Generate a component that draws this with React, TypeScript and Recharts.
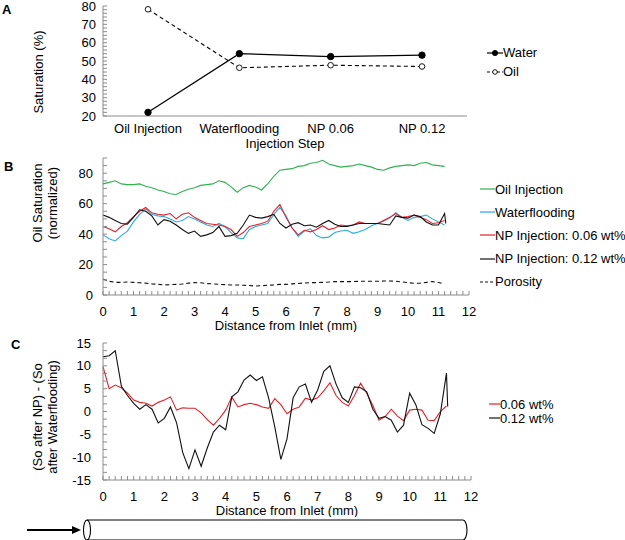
import React from 'react';
import { LineChart, Line, XAxis, YAxis, Legend } from 'recharts';

const FONT = '"Liberation Sans", Arial, Helvetica, sans-serif';
const FRAME = '#8c8c8c';

// Panel A: saturation per injection step
const stepNames = ['Oil Injection', 'Waterflooding', 'NP 0.06', 'NP 0.12'];
const waterSat = [22, 54, 52.4, 53.2];
const oilSat = [78.2, 46.3, 47.7, 47];

// Panel B / C: profiles along the core (mm)
const distance = [
  0, 0.2, 0.4, 0.6, 0.8, 1, 1.2, 1.4, 1.6, 1.8, 2, 2.2, 2.4, 2.6, 2.8, 3, 3.2, 3.4, 3.6, 3.8,
  4, 4.2, 4.4, 4.6, 4.8, 5, 5.2, 5.4, 5.6, 5.8, 6, 6.2, 6.4, 6.6, 6.8, 7, 7.2, 7.4, 7.6, 7.8,
  8, 8.2, 8.4, 8.6, 8.8, 9, 9.2, 9.4, 9.6, 9.8, 10, 10.2, 10.4, 10.6, 10.8, 11, 11.2, 11.24,
];
const oilInjection = [
  73, 74, 75, 73, 72.5, 72.5, 73, 71.5, 70.5, 69, 68, 66.5, 66, 68, 69.5, 70.5, 72, 72.5, 73, 75,
  74, 71, 67.5, 70.5, 72, 71, 69, 73, 78, 82, 82.5, 83, 84.5, 85, 86.5, 87, 88.5, 86, 85, 84,
  84.5, 85, 86, 85, 84, 82.5, 82, 83.5, 84.5, 85, 85.5, 85, 86.5, 87, 85.5, 85, 84.5,
];
const waterflooding = [
  39.5, 37, 35.5, 39, 42, 48, 53, 56.5, 53, 52, 51.5, 50, 48, 49, 51.5, 50, 48, 46, 45, 47,
  45, 41, 37.5, 37, 43, 45, 46, 47, 53, 57.5, 52, 44, 38.5, 42, 43.5, 39, 37.5, 38, 41, 42,
  42.5, 40.5, 41.5, 43, 45.5, 47, 48.5, 50.5, 54, 51, 49, 51, 51.5, 52.5, 50, 48, 46,
];
const np006 = [
  45, 43.5, 41.5, 45, 47.5, 51.5, 55, 57.5, 54, 53, 52.5, 53.5, 50, 53, 54, 51, 49, 47, 46.5, 46,
  45, 43, 38.5, 41, 45, 46, 47, 48.5, 55, 59.5, 51, 44, 39.5, 42.5, 41.5, 43, 45.5, 43, 44, 46,
  45.5, 46, 48, 47, 47, 47, 49, 51, 53.5, 51, 51.5, 52.5, 51, 49.5, 47, 47.5, 49,
];
const np012 = [
  52.5, 51, 49, 47, 46.5, 51, 56, 55, 52, 46, 49.5, 48.5, 46, 43, 40.5, 42, 38.5, 39.5, 41, 45,
  38.5, 39, 40.5, 46, 52.5, 51, 50.5, 51.5, 53, 47, 44, 46.5, 47.5, 45.5, 46, 44.5, 47, 49, 46.5, 45,
  45, 46, 47, 47, 47, 47, 46.5, 46, 52, 51, 50.5, 52.5, 51.5, 48, 46, 46, 53.5, 47,
];
const porosity = [
  10.5, 9, 8.3, 8.3, 8.5, 8.3, 8, 7.8, 7.3, 7, 6.6, 6.8, 7, 7.2, 7.8, 8.1, 8, 7.5, 7.3, 7,
  6.8, 6.6, 6.6, 6.4, 6.2, 5.9, 6.1, 6.4, 6.6, 7, 7, 7.3, 7.6, 7.9, 8.1, 8.1, 8.3, 8.5, 8.8, 8.8,
  8.8, 8.8, 9, 9, 9, 9, 9.2, 9.2, 9, 8.6, 8.1, 7.7, 7.8, 8.3, 8.8, 8.2, 7.2,
];
const diff006 = [
  9.8, 5, 5.8, 5.2, 4, 2.5, 2, 1.8, 1.2, 2, 2.5, 3.2, 0.3, 0.8, 0.7, 0.7, -0.3, -1.8, -3, -1.5,
  0.3, 3.2, 1, 1.5, 1.8, 1.5, 1, 0.7, 2.8, 1.5, -0.5, 0.5, 1, 2.9, 2.5, 3, 4.5, 6.3, 3.5, 2,
  1.2, 3.5, 6.2, 4, 1.3, -1.9, -1.1, 0.5, -1, -2, 0.3, 0.5, 0.3, -1.9, -2, 0, 1.2,
];
const diff012 = [
  12, 12.2, 13.3, 5.5, 3.5, 1.8, 0.5, 1.5, 0.5, -2.5, -1.5, 1, -2.5, -9, -12.5, -8.4, -12, -8, -4.5, -3,
  -4, 3.2, 4.3, 6.9, 8, 6.8, 7.6, 3, -3.3, -10.5, -6, 3, 5.4, 6, 2, 4.7, 8.8, 10, 6, 3,
  2, 5.4, 5.2, 4.3, 0.5, -1.5, -1.1, -1.9, -4.5, -3, 4, 1.5, -2.9, -3.7, -4.8, -0.5, 8.4, 1.1,
];

const stepRows = stepNames.map((step, i) => ({ step, water: waterSat[i], oil: oilSat[i] }));
const profileRows = distance.map((d, i) => ({
  d,
  oil: oilInjection[i],
  water: waterflooding[i],
  np006: np006[i],
  np012: np012[i],
  porosity: porosity[i],
  c006: diff006[i],
  c012: diff012[i],
}));

const seriesB = [
  { key: 'oil', name: 'Oil Injection', color: '#2fb250' },
  { key: 'water', name: 'Waterflooding', color: '#29abe2' },
  { key: 'np006', name: 'NP Injection: 0.06 wt%', color: '#e3212b' },
  { key: 'np012', name: 'NP Injection: 0.12 wt%', color: '#111111' },
  { key: 'porosity', name: 'Porosity', color: '#111111', dash: '4 3' },
];
const seriesC = [
  { key: 'c006', name: '0.06 wt%', color: '#e3212b' },
  { key: 'c012', name: '0.12 wt%', color: '#111111' },
];

// tick helpers
const steps = (from: number, to: number, n: number) =>
  Array.from({ length: n + 1 }, (_, i) => Math.round((from + ((to - from) * i) / n) * 1000) / 1000);
const isMajor = (v: number, every: number) => Math.abs(v / every - Math.round(v / every)) < 1e-6;

const XTickMinor = (props: any) => {
  const { x, y, payload, gap, every } = props;
  const v = payload.value;
  const base = y - gap;
  return (
    <g>
      <line x1={x} x2={x} y1={base} y2={base - 4} stroke={FRAME} />
      {isMajor(v, every) && (
        <text x={x} y={y} dy="0.71em" textAnchor="middle" fontSize={13} fontFamily={FONT} fill="#000">
          {Math.round(v)}
        </text>
      )}
    </g>
  );
};

const YTickMinor = (props: any) => {
  const { x, y, payload, gap, every } = props;
  const v = payload.value;
  const base = x + gap;
  return (
    <g>
      <line x1={base} x2={base + 4} y1={y} y2={y} stroke={FRAME} />
      {isMajor(v, every) && (
        <text x={x} y={y} dy="0.35em" textAnchor="end" fontSize={13} fontFamily={FONT} fill="#000">
          {Math.round(v)}
        </text>
      )}
    </g>
  );
};

// axis titles at fixed spots in the chart's own svg
const VTitle = ({ px, py, lines }: any) => (
  <g>
    {lines.map((t: string, i: number) => (
      <text
        key={t}
        x={px + i * 15}
        y={py}
        dy="0.35em"
        transform={`rotate(-90, ${px + i * 15}, ${py})`}
        textAnchor="middle"
        fontSize={13}
        fontFamily={FONT}
        fill="#000"
      >
        {t}
      </text>
    ))}
  </g>
);

const HTitle = ({ px, py, text }: any) => (
  <text x={px} y={py} dy="0.35em" textAnchor="middle" fontSize={13} fontFamily={FONT} fill="#000">
    {text}
  </text>
);

const LegendA = () => (
  <div style={{ fontFamily: FONT, fontSize: 13, color: '#000' }}>
    {[
      { name: 'Water', fill: '#000', dash: undefined, r: 2.6 },
      { name: 'Oil', fill: '#fff', dash: '3 2', r: 2.3 },
    ].map((r) => (
      <div key={r.name} style={{ display: 'flex', alignItems: 'center', height: 19, whiteSpace: 'nowrap' }}>
        <svg width={16} height={10}>
          <line x1={0} x2={16} y1={5} y2={5} stroke="#000" strokeWidth={1.2} strokeDasharray={r.dash} />
          <circle cx={8} cy={5} r={r.r} fill={r.fill} stroke="#000" strokeWidth={0.9} />
        </svg>
        <span>{r.name}</span>
      </div>
    ))}
  </div>
);

const LineLegend = ({ items, rowH, lineW }: any) => (
  <div style={{ fontFamily: FONT, fontSize: 13, color: '#000' }}>
    {items.map((s: any) => (
      <div key={s.key} style={{ display: 'flex', alignItems: 'center', height: rowH, whiteSpace: 'nowrap' }}>
        <svg width={lineW} height={6}>
          <line x1={0} x2={lineW} y1={3} y2={3} stroke={s.color} strokeWidth={1.2} strokeDasharray={s.dash ? '3 2' : undefined} />
        </svg>
        <span>{s.name}</span>
      </div>
    ))}
  </div>
);

const frameAxes = (topType: 'number' | 'category') => [
  <XAxis
    key="ftop"
    xAxisId="top"
    orientation="top"
    type={topType}
    height={0}
    tick={false}
    tickLine={false}
    axisLine={{ stroke: FRAME }}
  />,
  <YAxis key="fright" yAxisId="right" orientation="right" width={0} tick={false} tickLine={false} axisLine={{ stroke: FRAME }} />,
];

export default function App() {
  const xTicksBC = steps(0, 12, 60);
  return (
    <div style={{ position: 'absolute', left: 0, top: 0, width: 625, height: 540, background: '#fff', fontFamily: FONT, overflow: 'hidden' }}>
      <div style={{ position: 'absolute', left: 2, top: 3, fontWeight: 'bold', fontSize: 13, lineHeight: '13px' }}>A</div>
      <div style={{ position: 'absolute', left: 4, top: 160, fontWeight: 'bold', fontSize: 13, lineHeight: '13px' }}>B</div>
      <div style={{ position: 'absolute', left: 11, top: 338, fontWeight: 'bold', fontSize: 13, lineHeight: '13px' }}>C</div>

      {/* Panel A */}
      <div style={{ position: 'absolute', left: 0, top: 0 }}>
        <LineChart width={625} height={155} data={stepRows} margin={{ top: 6, right: 158, bottom: 0, left: 30 }}>
          <XAxis
            dataKey="step"
            padding={{ left: 45, right: 45 }}
            height={39}
            tickSize={0}
            tickMargin={8}
            tickLine={false}
            interval={0}
            axisLine={{ stroke: FRAME }}
            tick={{ fontSize: 13, fill: '#000', fontFamily: FONT }}
            label={<HTitle px={285} py={143} text="Injection Step" />}
          />
          <YAxis
            type="number"
            domain={[20, 80]}
            ticks={steps(20, 80, 30)}
            interval={0}
            width={73}
            tickSize={0}
            tickMargin={7}
            tickLine={false}
            axisLine={{ stroke: FRAME }}
            tick={(p: any) => <YTickMinor {...p} gap={7} every={10} />}
            label={<VTitle px={38} py={72} lines={['Saturation (%)']} />}
          />
          {frameAxes('category')}
          <Line
            dataKey="water"
            name="Water"
            stroke="#000"
            strokeWidth={1.2}
            dot={{ r: 3.2, fill: '#000', stroke: '#000', strokeWidth: 1 }}
            isAnimationActive={false}
          />
          <Line
            dataKey="oil"
            name="Oil"
            stroke="#000"
            strokeWidth={1.1}
            strokeDasharray="4 3"
            dot={{ r: 2.8, fill: '#fff', stroke: '#000', strokeWidth: 0.9, strokeDasharray: '0' }}
            isAnimationActive={false}
          />
          <Legend
            layout="vertical"
            align="center"
            verticalAlign="middle"
            content={() => <LegendA />}
            wrapperStyle={{ left: 487, top: 43, width: 'auto' }}
          />
        </LineChart>
      </div>

      {/* Panel B */}
      <div style={{ position: 'absolute', left: 0, top: 150 }}>
        <LineChart width={625} height={182} data={profileRows} margin={{ top: 8, right: 156, bottom: 0, left: 30 }}>
          <XAxis
            dataKey="d"
            type="number"
            domain={[0, 12]}
            ticks={xTicksBC}
            interval={0}
            height={37}
            tickSize={0}
            tickMargin={12}
            tickLine={false}
            axisLine={{ stroke: FRAME }}
            tick={(p: any) => <XTickMinor {...p} gap={12} every={1} />}
            label={<HTitle px={286} py={175} text="Distance from Inlet (mm)" />}
          />
          <YAxis
            type="number"
            domain={[0, 90]}
            ticks={steps(0, 90, 18)}
            interval={0}
            width={73}
            tickSize={0}
            tickMargin={10}
            tickLine={false}
            axisLine={{ stroke: FRAME }}
            tick={(p: any) => <YTickMinor {...p} gap={10} every={20} />}
            label={<VTitle px={37} py={53} lines={['Oil Saturation', '(normalized)']} />}
          />
          {frameAxes('number')}
          <Line dataKey="porosity" name="Porosity" stroke="#111" strokeWidth={1.1} strokeDasharray="4 3" dot={false} isAnimationActive={false} />
          <Line dataKey="oil" name="Oil Injection" stroke={seriesB[0].color} strokeWidth={1.1} dot={false} isAnimationActive={false} />
          <Line dataKey="water" name="Waterflooding" stroke={seriesB[1].color} strokeWidth={1.1} dot={false} isAnimationActive={false} />
          <Line dataKey="np006" name="NP Injection: 0.06 wt%" stroke={seriesB[2].color} strokeWidth={1.1} dot={false} isAnimationActive={false} />
          <Line dataKey="np012" name="NP Injection: 0.12 wt%" stroke={seriesB[3].color} strokeWidth={1.1} dot={false} isAnimationActive={false} />
          <Legend
            layout="vertical"
            align="center"
            verticalAlign="middle"
            content={() => <LineLegend items={seriesB} rowH={23.2} lineW={15} />}
            wrapperStyle={{ left: 480, top: 27.5, width: 'auto' }}
          />
        </LineChart>
      </div>

      {/* Panel C */}
      <div style={{ position: 'absolute', left: 0, top: 335 }}>
        <LineChart width={625} height={182} data={profileRows} margin={{ top: 8, right: 154, bottom: 0, left: 30 }}>
          <XAxis
            dataKey="d"
            type="number"
            domain={[0, 12]}
            ticks={xTicksBC}
            interval={0}
            height={37}
            tickSize={0}
            tickMargin={12}
            tickLine={false}
            axisLine={{ stroke: FRAME }}
            tick={(p: any) => <XTickMinor {...p} gap={12} every={1} />}
            label={<HTitle px={287} py={175} text="Distance from Inlet (mm)" />}
          />
          <YAxis
            type="number"
            domain={[-15, 15]}
            ticks={steps(-15, 15, 18)}
            interval={0}
            width={73}
            tickSize={0}
            tickMargin={12}
            tickLine={false}
            axisLine={{ stroke: FRAME }}
            tick={(p: any) => <YTickMinor {...p} gap={12} every={5} />}
            label={<VTitle px={37} py={82} lines={['(So after NP) - (So', 'after Waterflooding)']} />}
          />
          {frameAxes('number')}
          <Line dataKey="c006" name="0.06 wt%" stroke={seriesC[0].color} strokeWidth={1.1} dot={false} isAnimationActive={false} />
          <Line dataKey="c012" name="0.12 wt%" stroke={seriesC[1].color} strokeWidth={1.1} dot={false} isAnimationActive={false} />
          <Legend
            layout="vertical"
            align="center"
            verticalAlign="middle"
            content={() => <LineLegend items={seriesC} rowH={14} lineW={11} />}
            wrapperStyle={{ left: 489, top: 62, width: 'auto' }}
          />
        </LineChart>
      </div>

      {/* flow direction and core sketch */}
      <svg style={{ position: 'absolute', left: 0, top: 512 }} width={625} height={28}>
        <line x1={27} x2={74} y1={18} y2={18} stroke="#000" strokeWidth={2.2} />
        <polygon points="72,14 81,18 72,22" fill="#000" />
        <path d="M 87 8 L 463 8 A 4 10 0 0 1 463 28 L 87 28" fill="none" stroke="#000" strokeWidth={1.1} />
        <ellipse cx={87} cy={18} rx={3.5} ry={10} fill="none" stroke="#000" strokeWidth={1.1} />
      </svg>
    </div>
  );
}
